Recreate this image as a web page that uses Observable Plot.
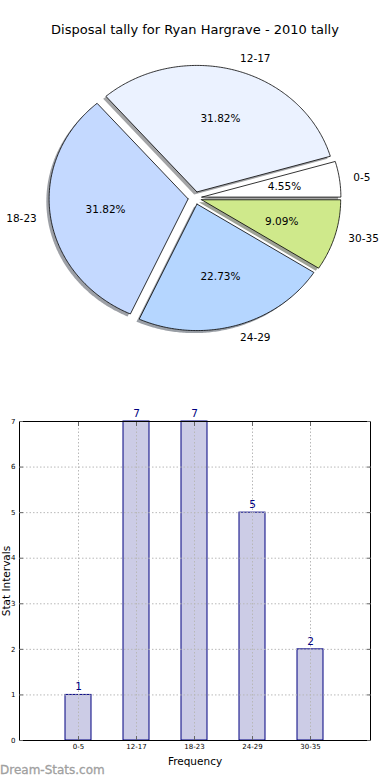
<!DOCTYPE html>
<html><head><meta charset="utf-8">
<script src="https://cdn.jsdelivr.net/npm/d3@7"></script>
<script src="https://cdn.jsdelivr.net/npm/@observablehq/plot@0.6"></script>
<style>
body{margin:0;background:#fff;font-family:"DejaVu Sans",sans-serif;}
#wrap{position:relative;width:390px;height:780px;overflow:hidden;background:#fff;}
#pie{position:absolute;left:0;top:0;}
#bar{position:absolute;left:0;top:400px;}
#title{position:absolute;left:0;width:390px;top:22px;text-align:center;font-size:13px;line-height:16px;color:#000;}
#wm{position:absolute;left:0;top:763px;font-size:12px;line-height:14px;color:#a0a0a0;font-weight:normal;-webkit-text-stroke:0.3px #a0a0a0;}
</style></head><body>
<div id="wrap"><div id="pie"></div><div id="bar"></div><div id="title"></div><div id="wm"></div></div>
<script>
const titleText = "Disposal tally for Ryan Hargrave - 2010 tally";
const watermark = "Dream-Stats.com";
const categories = ["0-5", "12-17", "18-23", "24-29", "30-35"];
const values = [1, 7, 7, 5, 2];
const sliceColors = ["#ffffff", "#ebf2ff", "#c4d9ff", "#b5d6ff", "#cfe98b"];
const yTicks = [0, 1, 2, 3, 4, 5, 6, 7];
const xLabel = "Frequency";
const yLabel = "Stat Intervals";

document.getElementById("title").textContent = titleText;
document.getElementById("wm").textContent = watermark;

// pie geometry (matplotlib-like: explode 0.05, labeldistance 1.1, pctdistance 0.6, shadow)
const explode = 0.05, labelDist = 1.1, pctDist = 0.6, shadowOff = -0.02;
const total = d3.sum(values);
const rad = Math.PI / 180;
let acc = 0;
const slices = categories.map((c, i) => {
  const t1 = acc / total * 360; acc += values[i]; const t2 = acc / total * 360;
  const mid = (t1 + t2) / 2;
  const ox = explode * Math.cos(mid * rad), oy = explode * Math.sin(mid * rad);
  return {c, i, t1, t2, mid, ox, oy, color: sliceColors[i],
    pct: (values[i] / total * 100).toFixed(2) + "%",
    lx: ox + labelDist * Math.cos(mid * rad), ly: oy + labelDist * Math.sin(mid * rad),
    px: ox + pctDist * Math.cos(mid * rad), py: oy + pctDist * Math.sin(mid * rad)};
});
const shade = (hex) => { const c = d3.rgb(hex); return d3.rgb(c.r * 0.3, c.g * 0.3, c.b * 0.3).formatHex(); };
const pts = [], shadowPts = [];
slices.forEach(s => {
  const ring = [[s.ox, s.oy]];
  const n = Math.max(4, Math.ceil((s.t2 - s.t1) * 1.5));
  for (let k = 0; k <= n; k++) {
    const a = (s.t1 + (s.t2 - s.t1) * k / n) * rad;
    ring.push([s.ox + Math.cos(a), s.oy + Math.sin(a)]);
  }
  ring.push([s.ox, s.oy]);
  ring.forEach(([x, y]) => {
    pts.push({c: s.c, x, y, fill: s.color});
    shadowPts.push({c: s.c, x: x + shadowOff, y: y + shadowOff, fill: shade(s.color)});
  });
});

const pie = Plot.plot({
  width: 390, height: 390, margin: 0,
  style: {fontFamily: "DejaVu Sans", background: "transparent", color: "#000"},
  x: {domain: [-194.5 / 139, 195.5 / 139], axis: null},
  y: {domain: [-(390 - 197.5) / 126.5, 197.5 / 126.5], axis: null},
  color: {type: "identity"},
  marks: [
    Plot.line(shadowPts, {x: "x", y: "y", z: "c", fill: "fill", fillOpacity: 0.5, stroke: null, curve: "linear"}),
    Plot.line(pts, {x: "x", y: "y", z: "c", fill: "fill", stroke: "#000", strokeWidth: 0.8, curve: "linear", strokeLinejoin: "miter"}),
    Plot.text(slices.filter(s => s.lx >= 0), {x: "lx", y: "ly", text: "c", textAnchor: "start", fontSize: 10.5, fill: "#000"}),
    Plot.text(slices.filter(s => s.lx < 0), {x: "lx", y: "ly", text: "c", textAnchor: "end", fontSize: 10.5, fill: "#000"}),
    Plot.text(slices, {x: "px", y: "py", text: "pct", textAnchor: "middle", fontSize: 10.5, fill: "#000"})
  ]
});
document.getElementById("pie").appendChild(pie);

const barData = categories.map((c, i) => ({c, v: values[i]}));
const grid = {stroke: "#b8b8b8", strokeOpacity: 1, strokeDasharray: "1.5,2", strokeWidth: 1};
const bar = Plot.plot({
  width: 390, height: 380, marginTop: 21, marginBottom: 40, marginLeft: 19, marginRight: 20,
  style: {fontFamily: "DejaVu Sans", background: "transparent", color: "#000"},
  x: {domain: categories, paddingInner: 0.55, paddingOuter: 0.77, align: 0.5, label: null},
  y: {domain: [0, 7], label: null},
  marks: [
    Plot.barY(barData, {x: "c", y: "v", fill: "#ccccE6", stroke: "#000080", strokeWidth: 1}),
    Plot.gridY(yTicks, grid),
    Plot.gridX(categories, grid),
    Plot.frame({stroke: "#000", strokeWidth: 1}),
    Plot.axisY(yTicks, {anchor: "left", tickSize: 0, tickPadding: 4, fontSize: 7, label: null}),
    Plot.axisY(yTicks, {anchor: "left", tickSize: -4, fill: "none", stroke: "#666", label: null}),
    Plot.axisY(yTicks, {anchor: "right", tickSize: -4, fill: "none", stroke: "#666", label: null}),
    Plot.axisX(categories, {anchor: "bottom", tickSize: 0, tickPadding: 4, fontSize: 7, label: null}),
    Plot.axisX(categories, {anchor: "bottom", tickSize: -4, fill: "none", stroke: "#666", label: null}),
    Plot.axisX(categories, {anchor: "top", tickSize: -4, fill: "none", stroke: "#666", label: null}),
    Plot.text(barData, {x: "c", y: "v", text: d => String(d.v), dy: -8, fill: "#000080", fontSize: 10.5}),
    Plot.text([xLabel], {frameAnchor: "bottom", dy: 21, lineAnchor: "middle", textAnchor: "middle", fontSize: 10.5, fill: "#000"}),
    Plot.text([yLabel], {frameAnchor: "left", dx: -12.5, rotate: -90, textAnchor: "middle", lineAnchor: "middle", fontSize: 10.5, fill: "#000"})
  ]
});
document.getElementById("bar").appendChild(bar);
</script>
</body></html>
